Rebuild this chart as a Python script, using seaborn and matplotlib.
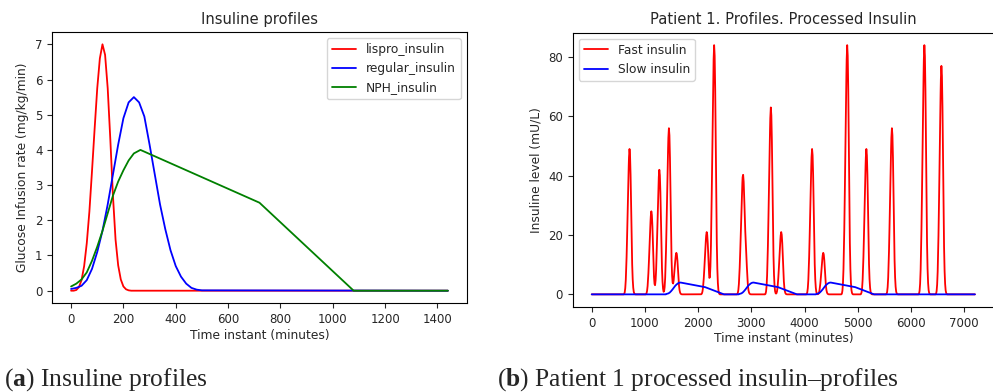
import numpy as np
import pandas as pd
import matplotlib
matplotlib.use("Agg")
import matplotlib.pyplot as plt
import seaborn as sns

# -----------------------------
# Perfis de insulina
# -----------------------------
lispro_t = [0, 10, 20, 30, 40, 50, 60, 70, 80, 90, 100, 110, 120, 130, 140, 150,
            160, 170, 180, 190, 200, 210, 220, 230, 240, 250, 1440]
lispro_v = [0, 0, 0.02, 0.1, 0.3, 0.7, 1.35, 2.25, 3.4, 4.6, 5.75, 6.6, 7.0, 6.7,
            5.75, 4.3, 2.7, 1.45, 0.72, 0.32, 0.12, 0.04, 0.01, 0, 0, 0, 0]

regular_t = [0, 20, 40, 60, 80, 100, 120, 140, 160, 180, 200, 220, 240, 260, 280,
             300, 320, 340, 360, 380, 400, 420, 440, 460, 480, 500, 1440]
regular_v = [0.05, 0.08, 0.14, 0.3, 0.62, 1.1, 1.7, 2.45, 3.3, 4.15, 4.9, 5.35, 5.5,
             5.35, 4.95, 4.15, 3.3, 2.45, 1.75, 1.15, 0.7, 0.4, 0.2, 0.08, 0.03, 0.01, 0]

nph_t = [0, 20, 40, 60, 80, 100, 120, 140, 160, 180, 200, 220, 240, 265, 720, 1080, 1440]
nph_v = [0.12, 0.2, 0.32, 0.52, 0.85, 1.25, 1.7, 2.2, 2.7, 3.1, 3.42, 3.7, 3.9, 4.0,
         2.5, 0.0, 0.0]

# -----------------------------
# Paciente 1: picos de insulina rapida e inicio da insulina lenta
# -----------------------------
fast_peak_time = [710, 1120, 1270, 1450, 1590, 2160, 2300, 2835, 2885, 3365, 3560,
                  4140, 4350, 4800, 5160, 5640, 6250, 6570]
fast_peak_height = [49, 28, 42, 56, 14, 21, 84, 35, 14, 63, 21, 49, 14, 84, 49, 56, 84, 77]
slow_start_time = [1400, 2770, 4220]
patient_end = 7200

# -----------------------------
# Monta as series do paciente a partir dos perfis
# -----------------------------
t = np.arange(0, patient_end + 1, 5)
lispro_peak_t = lispro_t[int(np.argmax(lispro_v))]
lispro_norm = np.array(lispro_v) / max(lispro_v)

fast = np.zeros_like(t, dtype=float)
for p, h in zip(fast_peak_time, fast_peak_height):
    fast += h * np.interp(t - p + lispro_peak_t, lispro_t, lispro_norm, left=0, right=0)

slow = np.zeros_like(t, dtype=float)
for s in slow_start_time:
    slow += np.interp(t - s, nph_t, nph_v, left=0, right=0)

patient = pd.DataFrame({"t": t, "fast": fast, "slow": slow})

# -----------------------------
# Estilo
# -----------------------------
sns.set_style("ticks")
plt.rcParams['font.family'] = ['DejaVu Sans']
plt.rcParams['mathtext.fontset'] = 'custom'
plt.rcParams['mathtext.rm'] = 'Liberation Serif'
plt.rcParams['mathtext.bf'] = 'Liberation Serif:bold'

tick_fs, label_fs, title_fs = 8.5, 8.8, 10.6
lw = 1.3

fig = plt.figure(figsize=(9.93, 3.92), dpi=100)
ax1 = fig.add_axes([0.0526, 0.227, 0.4174, 0.6914])
ax2 = fig.add_axes([0.5766, 0.2173, 0.4245, 0.6993])

# (a) perfis
sns.lineplot(x=lispro_t, y=lispro_v, color='r', lw=lw, label='lispro_insulin', ax=ax1, estimator=None)
sns.lineplot(x=regular_t, y=regular_v, color='b', lw=lw, label='regular_insulin', ax=ax1, estimator=None)
sns.lineplot(x=nph_t, y=nph_v, color='g', lw=lw, label='NPH_insulin', ax=ax1, estimator=None)
ax1.set_title('Insuline profiles', fontsize=title_fs)
ax1.set_xlabel('Time instant (minutes)', fontsize=label_fs, labelpad=2)
ax1.set_ylabel('Glucose Infusion rate (mg/kg/min)', fontsize=label_fs)
ax1.legend(loc='upper right', fontsize=label_fs)

# (b) paciente 1
sns.lineplot(data=patient, x='t', y='fast', color='r', lw=lw, label='Fast insulin', ax=ax2, estimator=None)
sns.lineplot(data=patient, x='t', y='slow', color='b', lw=lw, label='Slow insulin', ax=ax2, estimator=None)
ax2.set_title('Patient 1. Profiles. Processed Insulin', fontsize=title_fs)
ax2.set_xlabel('Time instant (minutes)', fontsize=label_fs, labelpad=2)
ax2.set_ylabel('Insuline level (mU/L)', fontsize=label_fs)
ax2.legend(loc='upper left', fontsize=label_fs)
ax2.set_xticks(range(0, 7001, 1000))

for ax in (ax1, ax2):
    ax.tick_params(labelsize=tick_fs, length=3.5)
    for sp in ax.spines.values():
        sp.set_color('black')
        sp.set_linewidth(0.8)

# legendas das figuras
fig.text(0.004, 0.0153, r'($\mathbf{a}$) Insuline profiles', family='Liberation Serif',
         fontsize=18.4, va='baseline')
fig.text(0.5005, 0.0153, r'($\mathbf{b}$) Patient 1 processed insulin–profiles',
         family='Liberation Serif', fontsize=18.4, va='baseline')

fig.savefig('out.png', dpi=100)
